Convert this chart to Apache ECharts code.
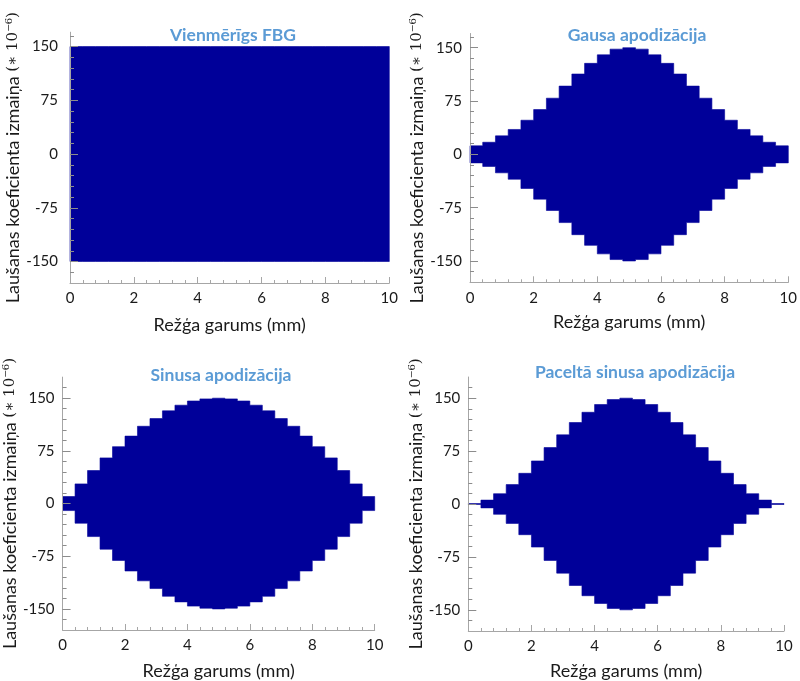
<!DOCTYPE html>
<html>
<head>
<meta charset="utf-8">
<script src="https://cdn.jsdelivr.net/npm/echarts@6/dist/echarts.min.js"></script>
<style>html,body{margin:0;padding:0;background:#fff}#c{width:800px;height:681px}</style>
</head>
<body>
<div id="c"></div>
<script>
// ---- data ----
const segmentEdges = [0,0.4,0.8,1.2,1.6,2.0,2.4,2.8,3.2,3.6,4.0,4.4,4.8,5.2,5.6,6.0,6.4,6.8,7.2,7.6,8.0,8.4,8.8,9.2,9.6,10];
const uniformValues = [150,150,150,150,150,150,150,150,150,150,150,150,150,150,150,150,150,150,150,150,150,150,150,150,150];
const gaussValues = [12,17,26,35,48,63,79,96,113,128,140,148,150,148,140,128,113,96,79,63,48,35,26,17,12];
const sineValues = [10,28,47,65,81,96,110,121,132,140,146,149,150,149,146,140,132,121,110,96,81,65,47,28,10];
const raisedSineValues = [0.6,5.5,14.6,27.5,43.5,61,80,98,115.5,130,141,148,150,148,141,130,115.5,98,80,61,43.5,27.5,14.6,5.5,0.6];
const titles = ['Vienmērīgs FBG','Gausa apodizācija','Sinusa apodizācija','Paceltā sinusa apodizācija'];
const xLabelTicks = [0,2,4,6,8,10];
const xMinorTicks = [0,0.4,0.8,1.2,1.6,2,2.4,2.8,3.2,3.6,4,4.4,4.8,5.2,5.6,6,6.4,6.8,7.2,7.6,8,8.4,8.8,9.2,9.6,10];
const yLabelTicks = [-150,-75,0,75,150];
const yMinorTicks = [-165,-150,-135,-120,-105,-90,-75,-60,-45,-30,-15,0,15,30,45,60,75,90,105,120,135,150,165];
const xName = 'Režģa garums (mm)';
const yNameMain = 'Laušanas koeficienta izmaiņa ';
const yNameUnit = '(∗ 10⁻⁶)';

// ---- layout ----
const FONT = 'Lato, "Open Sans", sans-serif';
const panels = [
  {vals: uniformValues, grid:{left:70, top:32.2, width:319.3, height:250.8}, ymin:-180, ymax:170, yGap:43, xGap:33, lm:12, tx:228, ty:21},
  {vals: gaussValues, grid:{left:470, top:33.5, width:319.3, height:248.8}, ymin:-180, ymax:170, yGap:37, xGap:31, lm:8, tx:632, ty:21},
  {vals: sineValues, grid:{left:61.3, top:377.1, width:313.4, height:253.6}, ymin:-180, ymax:180, yGap:34, xGap:32, lm:8, tx:216, ty:361},
  {vals: raisedSineValues, grid:{left:468.3, top:377, width:315.7, height:254.5}, ymin:-180, ymax:180, yGap:36, xGap:31, lm:8, tx:630, ty:358}
];
const FILL = '#000099';
const AXIS_COL = '#a6a6a6';
const TXT = '#1a1a1a';

const option = {animation:false, title:[], grid:[], xAxis:[], yAxis:[], series:[]};
panels.forEach((p, i) => {
  option.title.push({text: titles[i], left: p.tx, top: p.ty, textAlign:'center',
    textStyle:{color:'#5b9bd5', fontFamily:FONT, fontWeight:'bold', fontSize:17.5}});
  option.grid.push(Object.assign({containLabel:false}, p.grid));
  option.xAxis.push({type:'value', gridIndex:i, min:0, max:10, z:5,
    axisLine:{show:true, onZero:false, lineStyle:{color:AXIS_COL, width:1}},
    axisTick:{show:true, inside:true, length:3, customValues:xMinorTicks, lineStyle:{color:AXIS_COL}},
    axisLabel:{show:true, customValues:xLabelTicks, margin:8, color:TXT, fontFamily:FONT, fontSize:15},
    splitLine:{show:false},
    name:xName, nameLocation:'middle', nameGap:p.xGap,
    nameTextStyle:{color:TXT, fontFamily:FONT, fontSize:18}});
  option.xAxis.push({type:'value', gridIndex:i, min:0, max:10, z:5, position:'bottom',
    axisLine:{show:false, onZero:false}, axisLabel:{show:false}, splitLine:{show:false},
    axisTick:{show:true, inside:true, length:6, customValues:xLabelTicks, lineStyle:{color:AXIS_COL}}});
  option.yAxis.push({type:'value', gridIndex:i, min:p.ymin, max:p.ymax, z:5,
    axisLine:{show:true, onZero:false, lineStyle:{color:AXIS_COL, width:1}},
    axisTick:{show:true, inside:true, length:4, customValues:yMinorTicks, lineStyle:{color:'#8c8c8c'}},
    axisLabel:{show:true, customValues:yLabelTicks, margin:p.lm, color:TXT, fontFamily:FONT, fontSize:15},
    splitLine:{show:false},
    name:'{a|' + yNameMain + '}{b|' + yNameUnit + '}', nameLocation:'middle', nameGap:p.yGap,
    nameTextStyle:{color:TXT, fontFamily:FONT, fontSize:18,
      rich:{a:{fontFamily:FONT, fontSize:18, color:TXT}, b:{fontFamily:'"DejaVu Serif", serif', fontSize:15, color:TXT}}}});
  option.yAxis.push({type:'value', gridIndex:i, min:p.ymin, max:p.ymax, z:5, position:'left',
    axisLine:{show:false, onZero:false}, axisLabel:{show:false}, splitLine:{show:false},
    axisTick:{show:true, inside:true, length:8, customValues:yLabelTicks, lineStyle:{color:'#8c8c8c'}}});

  const data = p.vals.map((v, k) => [segmentEdges[k], segmentEdges[k+1], v]);
  option.series.push({type:'custom', xAxisIndex:2*i, yAxisIndex:2*i, z:2,
    encode:{x:[0,1], y:[2]}, data:data,
    renderItem:(params, api) => {
      if (params.dataIndex !== 0) return null;
      // build one stepped envelope polygon from all segments via the axis scales
      const pts = [];
      for (let k = 0; k < data.length; k++) {
        pts.push(api.coord([data[k][0], data[k][2]]));
        pts.push(api.coord([data[k][1], data[k][2]]));
      }
      for (let k = data.length - 1; k >= 0; k--) {
        pts.push(api.coord([data[k][1], -data[k][2]]));
        pts.push(api.coord([data[k][0], -data[k][2]]));
      }
      return {type:'polygon', shape:{points:pts},
        style:{fill:FILL, stroke:FILL, lineWidth:0.6}};
    }});
});

const chart = echarts.init(document.getElementById('c'), null, {renderer:'canvas'});
chart.setOption(option);
</script>
</body>
</html>
